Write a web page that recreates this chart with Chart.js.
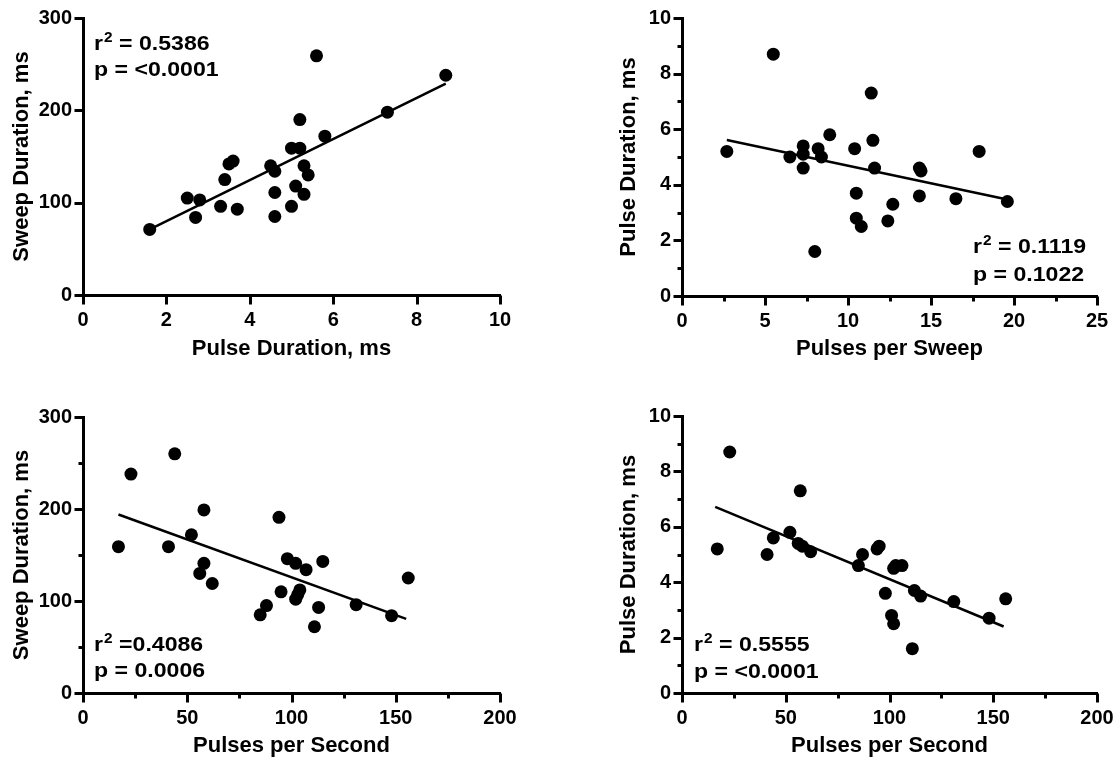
<!DOCTYPE html>
<html>
<head>
<meta charset="utf-8">
<title>Sweep / pulse correlations</title>
<script src="https://cdn.jsdelivr.net/npm/chart.js@4/dist/chart.umd.min.js"></script>
<style>
  html, body { margin: 0; padding: 0; background: #fff; }
  #wrap { position: relative; width: 1118px; height: 763px; overflow: hidden; }
  #wrap canvas { position: absolute; }
</style>
</head>
<body>
<div id="wrap">
  <canvas id="c-a" width="559" height="380" style="left:0;top:0"></canvas>
  <canvas id="c-b" width="559" height="380" style="left:559px;top:0"></canvas>
  <canvas id="c-c" width="559" height="383" style="left:0;top:380px"></canvas>
  <canvas id="c-d" width="559" height="383" style="left:559px;top:380px"></canvas>
</div>
<script>
// ==== dados ====

// A: sweep duration x pulse duration
const aX = [1.6, 2.5, 2.8, 2.7, 3.3, 3.4, 3.5, 3.6, 3.7, 4.5, 4.6, 4.6, 4.6, 5.0, 5.2, 5.2, 5.0, 5.1, 5.3, 5.3, 5.4, 5.6, 5.8, 7.3, 8.7];
const aY = [71, 105, 103, 84, 96, 125, 142, 145, 93, 140, 134, 111, 85, 159, 159, 190, 96, 118, 140, 109, 130, 259, 172, 198, 238];
const aFitX = [1.6, 8.7];
const aFitY = [71, 229];
const aStats = [' = 0.5386', 'p = <0.0001'];

// B: pulse duration x pulses per sweep
const bX = [2.7, 5.5, 6.5, 7.3, 7.3, 7.3, 8.2, 8.4, 8.0, 8.9, 10.4, 10.5, 10.5, 10.8, 11.4, 11.5, 11.6, 12.4, 12.7, 14.3, 14.4, 14.3, 16.5, 17.9, 19.6];
const bY = [5.2, 8.7, 5.0, 5.4, 5.1, 4.6, 5.3, 5.0, 1.6, 5.8, 5.3, 3.7, 2.8, 2.5, 7.3, 5.6, 4.6, 2.7, 3.3, 4.6, 4.5, 3.6, 3.5, 5.2, 3.4];
const bFitX = [2.7, 19.6];
const bFitY = [5.61, 3.47];
const bStats = [' = 0.1119', 'p = 0.1022'];

// C: sweep duration x pulses per second
const cX = [17, 23, 41, 44, 52, 56, 58, 58, 62, 85, 88, 94, 95, 98, 102, 102, 103, 104, 107, 111, 113, 115, 131, 148, 156];
const cY = [159, 238, 159, 260, 172, 130, 199, 141, 119, 85, 95, 191, 110, 146, 102, 141, 107, 112, 134, 72, 93, 143, 96, 84, 125];
const cFitX = [17, 155];
const cFitY = [194, 80.6];
const cStats = [' =0.4086', 'p = 0.0006'];

// D: pulse duration x pulses per second
const dX = [17, 23, 41, 44, 52, 56, 57, 58, 62, 85, 87, 94, 95, 98, 101, 102, 102, 103, 106, 111, 112, 115, 131, 148, 156];
const dY = [5.2, 8.7, 5.0, 5.6, 5.8, 5.4, 7.3, 5.3, 5.1, 4.6, 5.0, 5.2, 5.3, 3.6, 2.8, 2.5, 4.5, 4.6, 4.6, 1.6, 3.7, 3.5, 3.3, 2.7, 3.4];
const dFitX = [16, 155];
const dFitY = [6.72, 2.4];
const dStats = [' = 0.5555', 'p = <0.0001'];

// ==== helpers ====
const FONT = "'Liberation Sans', Arial, Helvetica, sans-serif";
const pts = (xs, ys) => xs.map((x, i) => ({ x, y: ys[i] }));
const isMajor = (v, major) => Math.abs(v / major - Math.round(v / major)) < 1e-6;

// eixos grossos, ticks (major/minor) + texto r2 / p
const extras = {
  id: 'extras',
  afterDraw(chart, args, o) {
    const ctx = chart.ctx;
    const ca = chart.chartArea;
    const sx = chart.scales.x, sy = chart.scales.y;
    const ax = Math.round(ca.left) + 0.5;
    const ay = Math.round(ca.bottom) + 0.5;

    ctx.save();
    ctx.strokeStyle = '#000';
    ctx.lineWidth = 3;
    ctx.lineCap = 'butt';

    // linhas dos eixos
    ctx.beginPath();
    ctx.moveTo(ax, Math.round(ca.top) - 1);
    ctx.lineTo(ax, ay + 1.5);
    ctx.moveTo(ax - 1.5, ay);
    ctx.lineTo(Math.round(ca.right) + 1, ay);
    ctx.stroke();

    // ticks
    ctx.beginPath();
    sx.ticks.forEach(t => {
      const p = Math.round(sx.getPixelForValue(t.value)) + 0.5;
      const len = isMajor(t.value, o.major.x) ? 9 : 5;
      ctx.moveTo(p, ay);
      ctx.lineTo(p, ay + len);
    });
    sy.ticks.forEach(t => {
      const p = Math.round(sy.getPixelForValue(t.value)) + 0.5;
      const len = isMajor(t.value, o.major.y) ? 9 : 5;
      ctx.moveTo(ax, p);
      ctx.lineTo(ax - len, p);
    });
    ctx.stroke();

    // estatísticas
    const s = o.stats;
    ctx.fillStyle = '#000';
    ctx.textBaseline = 'alphabetic';
    ctx.textAlign = 'left';
    ctx.translate(s.x, 0);
    ctx.scale(1.1, 1);
    ctx.font = 'bold 21px ' + FONT;
    ctx.fillText('r', 0, s.y1);
    let w = ctx.measureText('r').width + 1;
    ctx.font = 'bold 14px ' + FONT;
    ctx.fillText('2', w, s.y1 - 8);
    w += ctx.measureText('2').width;
    ctx.font = 'bold 21px ' + FONT;
    ctx.fillText(s.text[0], w, s.y1);
    ctx.fillText(s.text[1], 0, s.y2);
    ctx.restore();
  }
};

function makePanel(id, cfg) {
  const canvas = document.getElementById(id);
  const W = canvas.width, H = canvas.height;
  const a = cfg.area; // {l, r, t, b}

  const tickFont = { family: FONT, size: 20, weight: 'bold' };
  const titleFont = { family: FONT, size: 22, weight: 'bold', lineHeight: 1 };

  const axis = (k, ax) => ({
    type: 'linear',
    min: ax.min, max: ax.max,
    border: { display: false },
    grid: {
      display: true,
      drawOnChartArea: false,
      drawTicks: true,
      tickLength: k === 'x' ? 9 : 8,
      tickColor: 'rgba(0,0,0,0)'
    },
    ticks: {
      stepSize: ax.step,
      autoSkip: false,
      maxRotation: 0,
      padding: k === 'x' ? 4 : 3,
      color: '#000',
      font: tickFont,
      callback: v => isMajor(v, ax.major) ? String(v) : ''
    },
    title: {
      display: true,
      text: ax.title,
      color: '#000',
      font: titleFont,
      padding: k === 'x' ? { top: 0, bottom: ax.titlePad } : { top: ax.titlePad, bottom: 0 }
    },
    afterFit: sc => {
      if (k === 'x') sc.height = H - a.b;
      else sc.width = a.l;
    }
  });

  return new Chart(canvas.getContext('2d'), {
    type: 'scatter',
    data: {
      datasets: [
        {
          data: pts(cfg.x, cfg.y),
          backgroundColor: '#000',
          borderWidth: 0,
          pointRadius: 6.5,
          pointHoverRadius: 6.5
        },
        {
          data: pts(cfg.fitX, cfg.fitY),
          showLine: true,
          borderColor: '#000',
          borderWidth: 2.5,
          pointRadius: 0,
          pointHoverRadius: 0
        }
      ]
    },
    options: {
      responsive: false,
      animation: false,
      devicePixelRatio: 1,
      layout: { padding: { left: 0, top: a.t, right: W - a.r, bottom: 0 } },
      plugins: {
        legend: { display: false },
        tooltip: { enabled: false },
        extras: {
          major: { x: cfg.xAxis.major, y: cfg.yAxis.major },
          stats: cfg.stats
        }
      },
      scales: {
        x: Object.assign(axis('x', cfg.xAxis), { position: 'bottom' }),
        y: Object.assign(axis('y', cfg.yAxis), { position: 'left' })
      }
    },
    plugins: [extras]
  });
}

function init() {
  makePanel('c-a', {
    x: aX, y: aY, fitX: aFitX, fitY: aFitY,
    area: { l: 83, r: 500, t: 18, b: 295 },
    xAxis: { min: 0, max: 10, step: 2, major: 2, title: 'Pulse Duration, ms', titlePad: 20 },
    yAxis: { min: 0, max: 300, step: 100, major: 100, title: 'Sweep Duration, ms', titlePad: 11 },
    stats: { x: 94, y1: 50, y2: 76, text: aStats }
  });

  makePanel('c-b', {
    x: bX, y: bY, fitX: bFitX, fitY: bFitY,
    area: { l: 123, r: 538, t: 18, b: 296 },
    xAxis: { min: 0, max: 25, step: 2.5, major: 5, title: 'Pulses per Sweep', titlePad: 20 },
    yAxis: { min: 0, max: 10, step: 1, major: 2, title: 'Pulse Duration, ms', titlePad: 59 },
    stats: { x: 414, y1: 253, y2: 281, text: bStats }
  });

  makePanel('c-c', {
    x: cX, y: cY, fitX: cFitX, fitY: cFitY,
    area: { l: 83, r: 500, t: 37, b: 313 },
    xAxis: { min: 0, max: 200, step: 25, major: 50, title: 'Pulses per Second', titlePad: 6 },
    yAxis: { min: 0, max: 300, step: 50, major: 100, title: 'Sweep Duration, ms', titlePad: 11 },
    stats: { x: 94, y1: 271, y2: 297, text: cStats }
  });

  makePanel('c-d', {
    x: dX, y: dY, fitX: dFitX, fitY: dFitY,
    area: { l: 123, r: 538, t: 36, b: 313 },
    xAxis: { min: 0, max: 200, step: 25, major: 50, title: 'Pulses per Second', titlePad: 6 },
    yAxis: { min: 0, max: 10, step: 1, major: 2, title: 'Pulse Duration, ms', titlePad: 59 },
    stats: { x: 135, y1: 271, y2: 298, text: dStats }
  });
}

if (document.readyState === 'loading') {
  document.addEventListener('DOMContentLoaded', init);
} else {
  init();
}
</script>
</body>
</html>
